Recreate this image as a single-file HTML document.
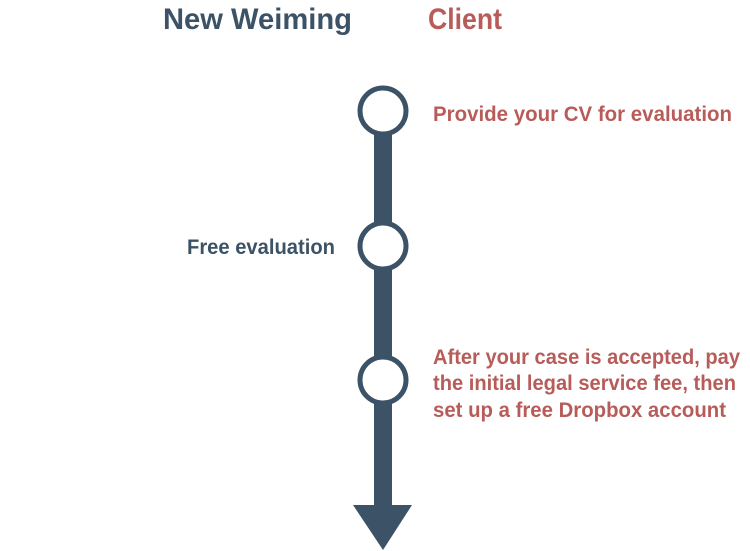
<!DOCTYPE html>
<html><head><meta charset="utf-8"><style>html,body{margin:0;padding:0;background:#fff;}svg{display:block}</style></head>
<body>
<svg width="750" height="551" viewBox="0 0 750 551" xmlns="http://www.w3.org/2000/svg" font-family="Liberation Sans, sans-serif" font-weight="bold">
<rect x="374" y="111" width="18" height="400" fill="#3c5266"/>
<polygon points="353,505 412,505 383,550" fill="#3c5266"/>
<g fill="#fff" stroke="#3c5266" stroke-width="5">
<circle cx="383" cy="111" r="23"/>
<circle cx="383" cy="246" r="23"/>
<circle cx="383" cy="380" r="23"/>
</g>
<text x="163" y="29" font-size="30" fill="#3c5266" textLength="189" lengthAdjust="spacingAndGlyphs">New Weiming</text>
<text x="428" y="29" font-size="30" fill="#b85c59" textLength="74" lengthAdjust="spacingAndGlyphs">Client</text>
<g font-size="21" fill="#b85c59">
<text x="433" y="121" textLength="299" lengthAdjust="spacingAndGlyphs">Provide your CV for evaluation</text>
<text x="433" y="364" textLength="307" lengthAdjust="spacingAndGlyphs">After your case is accepted, pay</text>
<text x="433" y="390" textLength="303" lengthAdjust="spacingAndGlyphs">the initial legal service fee, then</text>
<text x="433" y="417" textLength="293" lengthAdjust="spacingAndGlyphs">set up a free Dropbox account</text>
</g>
<text x="187" y="254" font-size="21" fill="#3c5266" textLength="148" lengthAdjust="spacingAndGlyphs">Free evaluation</text>
</svg>
</body></html>
